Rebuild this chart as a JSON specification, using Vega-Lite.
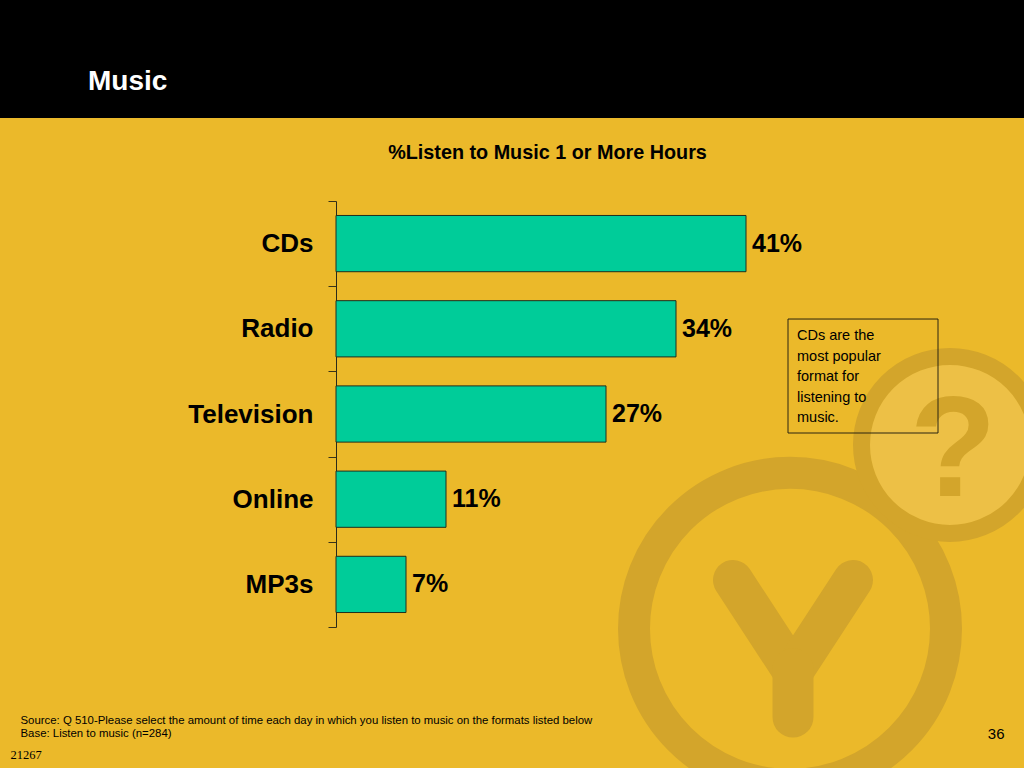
{
  "$schema": "https://vega.github.io/schema/vega-lite/v6.json",
  "autosize": {"type": "none"},
  "width": 1024,
  "height": 650,
  "padding": {"left": 0, "top": 118, "right": 0, "bottom": 0},
  "background": "#000000",
  "title": {
    "text": "Music",
    "anchor": "start",
    "orient": "top",
    "frame": "group",
    "dx": 88,
    "offset": 0,
    "baseline": "alphabetic",
    "color": "#ffffff",
    "font": "Liberation Sans",
    "fontSize": 28,
    "fontWeight": "bold"
  },
  "datasets": {
    "formats": [
      {"format": "CDs", "share": 0.41},
      {"format": "Radio", "share": 0.34},
      {"format": "Television", "share": 0.27},
      {"format": "Online", "share": 0.11},
      {"format": "MP3s", "share": 0.07}
    ],
    "notes": [
      {"note": "CDs are the\nmost popular\nformat for\nlistening to\nmusic."}
    ],
    "logo": [
      {"mark": "?"}
    ]
  },
  "layer": [
    {
      "data": {"name": "formats"},
      "mark": {"type": "bar", "opacity": 0},
      "encoding": {
        "y": {
          "field": "format",
          "type": "nominal",
          "sort": null,
          "scale": {
            "domain": ["CDs", "Radio", "Television", "Online", "MP3s"],
            "range": [83, 509],
            "paddingInner": 0.34,
            "paddingOuter": 0.17
          },
          "axis": null
        },
        "x": {
          "field": "share",
          "type": "quantitative",
          "scale": {"domain": [-0.336, 0.688], "zero": false, "nice": false},
          "axis": null
        },
        "x2": {"datum": 0}
      }
    },
    {
      "data": {"name": "logo"},
      "mark": {"type": "point", "shape": "circle", "filled": false, "stroke": "#D3A52B", "strokeWidth": 32, "size": 97344, "opacity": 1},
      "encoding": {
        "x": {"datum": 0.454, "type": "quantitative", "axis": null},
        "y": {"datum": "MP3s", "type": "nominal", "bandPosition": 1.29, "axis": null}
      }
    },
    {
      "data": {"name": "logo"},
      "mark": {"type": "rule", "stroke": "#D3A52B", "strokeWidth": 40, "strokeCap": "round"},
      "encoding": {
        "x": {"datum": 0.397, "type": "quantitative", "axis": null},
        "x2": {"datum": 0.457},
        "y": {"datum": "MP3s", "type": "nominal", "bandPosition": 0.422, "axis": null},
        "y2": {"datum": "MP3s", "bandPosition": 2.058}
      }
    },
    {
      "data": {"name": "logo"},
      "mark": {"type": "rule", "stroke": "#D3A52B", "strokeWidth": 40, "strokeCap": "round"},
      "encoding": {
        "x": {"datum": 0.517, "type": "quantitative", "axis": null},
        "x2": {"datum": 0.457},
        "y": {"datum": "MP3s", "type": "nominal", "bandPosition": 0.422, "axis": null},
        "y2": {"datum": "MP3s", "bandPosition": 2.058}
      }
    },
    {
      "data": {"name": "logo"},
      "mark": {"type": "rule", "stroke": "#D3A52B", "strokeWidth": 41, "strokeCap": "round"},
      "encoding": {
        "x": {"datum": 0.457, "type": "quantitative", "axis": null},
        "x2": {"datum": 0.457},
        "y": {"datum": "MP3s", "type": "nominal", "bandPosition": 2.0, "axis": null},
        "y2": {"datum": "MP3s", "bandPosition": 2.859}
      }
    },
    {
      "data": {"name": "logo"},
      "mark": {"type": "point", "shape": "circle", "filled": false, "fill": "#EDC046", "fillOpacity": 1, "stroke": "#D3A52B", "strokeWidth": 17, "size": 31329, "opacity": 1},
      "encoding": {
        "x": {"datum": 0.614, "type": "quantitative", "axis": null},
        "y": {"datum": "Television", "type": "nominal", "bandPosition": 1.05, "axis": null}
      }
    },
    {
      "data": {"name": "logo"},
      "mark": {"type": "text", "align": "center", "baseline": "alphabetic", "font": "Liberation Sans", "fontSize": 142, "fontWeight": "bold", "color": "#D3A52B"},
      "encoding": {
        "x": {"datum": 0.617, "type": "quantitative", "axis": null},
        "y": {"datum": "Television", "type": "nominal", "bandPosition": 1.96, "axis": null},
        "text": {"field": "mark", "type": "nominal"}
      }
    },
    {
      "data": {"name": "formats"},
      "mark": {"type": "bar", "fill": "#00CC99", "stroke": "#1f2f1f", "strokeWidth": 1},
      "encoding": {
        "y": {
          "field": "format",
          "type": "nominal",
          "sort": null,
          "axis": {
            "orient": "left",
            "offset": -336,
            "tickOffset": -42.6,
            "labelOffset": 42.6,
            "tickSize": 8,
            "tickColor": "#3a3318",
            "domainColor": "#2a2a1a",
            "labelPadding": 15,
            "labelFont": "Liberation Sans",
            "labelFontSize": 26,
            "labelFontWeight": "bold",
            "labelColor": "#000000",
            "grid": false,
            "title": "21267",
            "titleAngle": 0,
            "titleX": -326,
            "titleY": 640,
            "titleAlign": "left",
            "titleBaseline": "alphabetic",
            "titleFont": "Liberation Serif",
            "titleFontSize": 12.5,
            "titleFontWeight": "normal",
            "titleColor": "#000000"
          }
        },
        "x": {
          "field": "share",
          "type": "quantitative",
          "axis": {
            "orient": "top",
            "domain": false,
            "ticks": false,
            "labels": false,
            "grid": false,
            "title": "%Listen to Music 1 or More Hours",
            "titleX": 547,
            "titleY": 40,
            "titleAlign": "center",
            "titleBaseline": "alphabetic",
            "titleFont": "Liberation Sans",
            "titleFontSize": 19.8,
            "titleFontWeight": "bold",
            "titleColor": "#000000"
          }
        },
        "x2": {"datum": 0}
      }
    },
    {
      "data": {"name": "formats"},
      "mark": {
        "type": "text",
        "align": "left",
        "baseline": "middle",
        "dx": 6,
        "font": "Liberation Sans",
        "fontSize": 25,
        "fontWeight": "bold",
        "color": "#000000"
      },
      "encoding": {
        "y": {
          "field": "format",
          "type": "nominal",
          "sort": null,
          "axis": {
            "orient": "right",
            "domain": false,
            "ticks": false,
            "labels": false,
            "grid": false,
            "title": "36",
            "titleAngle": 0,
            "titleX": -20,
            "titleY": 615,
            "titleAlign": "right",
            "titleBaseline": "middle",
            "titleFont": "Liberation Sans",
            "titleFontSize": 15,
            "titleFontWeight": "normal",
            "titleColor": "#000000"
          }
        },
        "x": {
          "field": "share",
          "type": "quantitative",
          "axis": {
            "orient": "bottom",
            "domain": false,
            "ticks": false,
            "labels": false,
            "grid": false,
            "title": [
              "Source: Q 510-Please select the amount of time each day in which you listen to music on the formats listed below",
              "Base: Listen to music (n=284)"
            ],
            "titleX": 20,
            "titleY": -45,
            "titleAlign": "left",
            "titleBaseline": "alphabetic",
            "titleLineHeight": 13.6,
            "titleFont": "Liberation Sans",
            "titleFontSize": 11.4,
            "titleFontWeight": "normal",
            "titleColor": "#000000"
          }
        },
        "text": {"field": "share", "type": "quantitative", "format": ".0%"}
      }
    },
    {
      "data": {"name": "notes"},
      "mark": {"type": "rect", "fill": null, "stroke": "#2a2410", "strokeWidth": 1},
      "encoding": {
        "x": {"datum": 0.452, "type": "quantitative", "axis": null},
        "x2": {"datum": 0.602},
        "y": {
          "datum": "MP3s",
          "type": "nominal",
          "bandPosition": 0.5,
          "axis": {
            "orient": "left",
            "offset": -336,
            "values": ["MP3s"],
            "tickOffset": 42.6,
            "tickSize": 8,
            "tickColor": "#3a3318",
            "domain": false,
            "labels": false,
            "grid": false,
            "title": null
          }
        },
        "opacity": {"value": 0}
      }
    },
    {
      "data": {"name": "notes"},
      "mark": {"type": "rect", "fill": null, "stroke": "#2a2410", "strokeWidth": 1},
      "encoding": {
        "x": {"datum": 0.452, "type": "quantitative", "axis": null},
        "x2": {"datum": 0.602},
        "y": {"datum": "Radio", "type": "nominal", "bandPosition": 0.326, "axis": null},
        "y2": {"datum": "Television", "bandPosition": 0.838}
      }
    },
    {
      "data": {"name": "notes"},
      "mark": {
        "type": "text",
        "align": "left",
        "baseline": "alphabetic",
        "lineBreak": "\n",
        "lineHeight": 20.5,
        "font": "Liberation Sans",
        "fontSize": 14.5,
        "color": "#000000"
      },
      "encoding": {
        "x": {"datum": 0.461, "type": "quantitative", "axis": null},
        "y": {"datum": "Radio", "type": "nominal", "bandPosition": 0.708, "axis": null},
        "text": {"field": "note", "type": "nominal"}
      }
    }
  ],
  "resolve": {"axis": {"x": "independent", "y": "independent"}},
  "config": {
    "view": {"fill": "#EBB92A", "stroke": null}
  }
}
